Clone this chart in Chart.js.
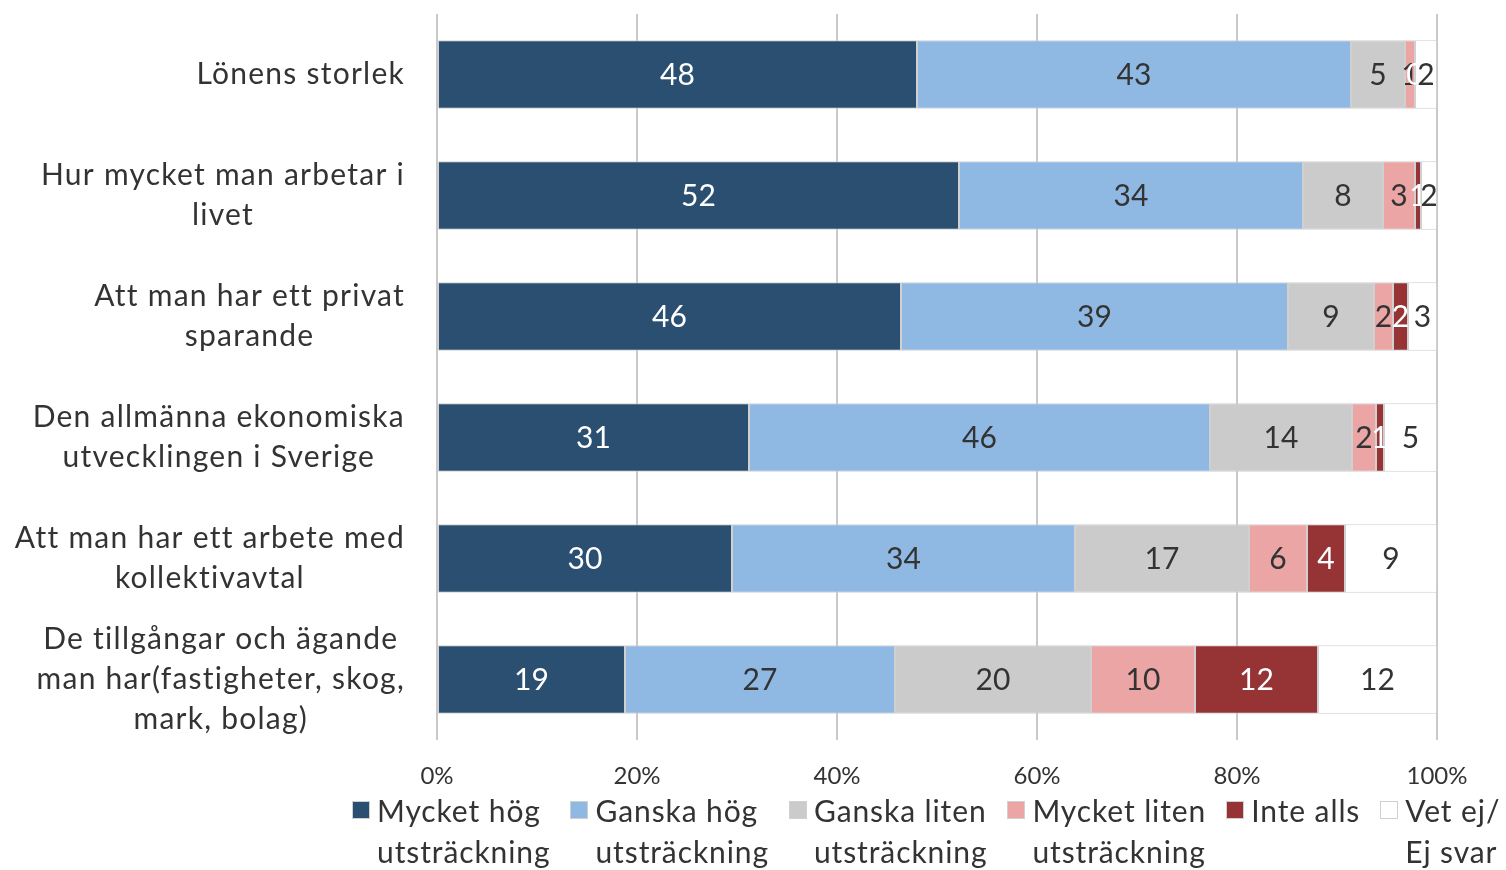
<!DOCTYPE html>
<html>
<head>
<meta charset="utf-8">
<script src="https://cdn.jsdelivr.net/npm/chart.js@4.4.1/dist/chart.umd.min.js"></script>
<style>
  body { margin: 0; background: #fff; }
  #wrap { position: relative; width: 1506px; height: 870px; overflow: hidden; }
  #legend {
    position: absolute; left: 352px; top: 790px;
    display: flex; gap: 20px;
    font-family: Lato, "Open Sans", sans-serif; font-size: 30px; line-height: 41px; color: #333;
    letter-spacing: 0.9px;
  }
  .item { display: flex; align-items: flex-start; }
  .box { width: 18px; height: 18px; margin: 11px 7px 0 0; box-sizing: border-box; border: 1px solid #d0d0d0; flex: none; }
</style>
</head>
<body>
<div id="wrap">
  <canvas id="chart" width="1506" height="870"></canvas>
  <div id="legend"></div>
</div>
<script>
const categories = [
  ["Lönens storlek"],
  ["Hur mycket man arbetar i", "livet"],
  ["Att man har ett privat", "sparande"],
  ["Den allmänna ekonomiska", "utvecklingen i Sverige"],
  ["Att man har ett arbete med", "kollektivavtal"],
  ["De tillgångar och ägande", "man har(fastigheter, skog,", "mark, bolag)"]
];

const mycketHog   = [48.0, 52.2, 46.4, 31.2, 29.5, 18.8];
const ganskaHog   = [43.4, 34.4, 38.7, 46.1, 34.3, 27.0];
const ganskaLiten = [5.4, 8.0, 8.6, 14.2, 17.4, 19.6];
const mycketLiten = [1.0, 3.2, 1.9, 2.4, 5.8, 10.4];
const inteAlls    = [0.0, 0.6, 1.5, 0.8, 3.8, 12.3];
const vetEj       = [2.2, 1.6, 2.9, 5.3, 9.2, 11.9];

const seriesNames = [
  ["Mycket hög", "utsträckning"],
  ["Ganska hög", "utsträckning"],
  ["Ganska liten", "utsträckning"],
  ["Mycket liten", "utsträckning"],
  ["Inte alls"],
  ["Vet ej/", "Ej svar"]
];
const seriesData = [mycketHog, ganskaHog, ganskaLiten, mycketLiten, inteAlls, vetEj];
const colors = ["#2a4f71", "#8fb9e3", "#cbcbcb", "#eba5a5", "#963335", "#ffffff"];
const labelColors = ["#ffffff", "#333333", "#333333", "#333333", "#ffffff", "#333333"];

const FONT = "Lato, 'Open Sans', sans-serif";

// y-axis labels: block right-aligned, lines centered within it
const yLabelsPlugin = {
  id: "yLabels",
  afterDraw(chart) {
    const ctx = chart.ctx;
    const y = chart.scales.y;
    ctx.save();
    ctx.font = "30px " + FONT;
    ctx.letterSpacing = "1.25px";
    ctx.fillStyle = "#333333";
    ctx.textAlign = "center";
    ctx.textBaseline = "middle";
    categories.forEach((lines, i) => {
      const cy = y.getPixelForValue(i);
      const maxW = Math.max(...lines.map((l) => ctx.measureText(l).width));
      const cx = 405 - maxW / 2;
      const startY = cy - (lines.length - 1) * 20;
      lines.forEach((l, k) => ctx.fillText(l, cx, startY + k * 40));
    });
    ctx.restore();
  }
};

const valueLabelsPlugin = {
  id: "valueLabels",
  afterDatasetsDraw(chart) {
    const ctx = chart.ctx;
    ctx.save();
    ctx.font = "30px " + FONT;
    ctx.textAlign = "center";
    ctx.textBaseline = "middle";
    chart.data.datasets.forEach((ds, di) => {
      const meta = chart.getDatasetMeta(di);
      ctx.fillStyle = labelColors[di];
      meta.data.forEach((el, i) => {
        const cx = (el.x + el.base) / 2;
        ctx.fillText(String(Math.round(ds.data[i])), cx, el.y + 1);
      });
    });
    ctx.restore();
  }
};

new Chart(document.getElementById("chart"), {
  type: "bar",
  plugins: [yLabelsPlugin, valueLabelsPlugin],
  data: {
    labels: categories.map((c) => c.join(" ")),
    datasets: seriesData.map((d, i) => ({
      label: seriesNames[i].join(" "),
      data: d,
      backgroundColor: colors[i],
      borderColor: "#d0d0d0",
      borderWidth: 1,
      borderSkipped: false,
      categoryPercentage: 1,
      barPercentage: 0.565
    }))
  },
  options: {
    indexAxis: "y",
    responsive: false,
    animation: false,
    layout: { padding: { top: 14, right: 69, left: 0, bottom: 0 } },
    plugins: { legend: { display: false }, tooltip: { enabled: false } },
    scales: {
      x: {
        stacked: true,
        min: 0,
        max: 100,
        border: { display: false },
        grid: { color: "#c9c9c9", lineWidth: 2, drawTicks: false },
        ticks: {
          stepSize: 20,
          padding: 22,
          color: "#333333",
          font: { family: FONT, size: 24 },
          callback: (v) => v + "%"
        },
        afterFit: (s) => { s.height = 130; }
      },
      y: {
        stacked: true,
        border: { display: false },
        grid: { display: false, drawTicks: false },
        ticks: { display: false },
        afterFit: (s) => { s.width = 437; }
      }
    }
  }
});

// legend (two-line names)
const legend = document.getElementById("legend");
seriesNames.forEach((lines, i) => {
  const item = document.createElement("div");
  item.className = "item";
  const box = document.createElement("span");
  box.className = "box";
  box.style.background = colors[i];
  const txt = document.createElement("div");
  txt.innerHTML = lines.join("<br>");
  item.appendChild(box);
  item.appendChild(txt);
  legend.appendChild(item);
});
</script>
</body>
</html>
